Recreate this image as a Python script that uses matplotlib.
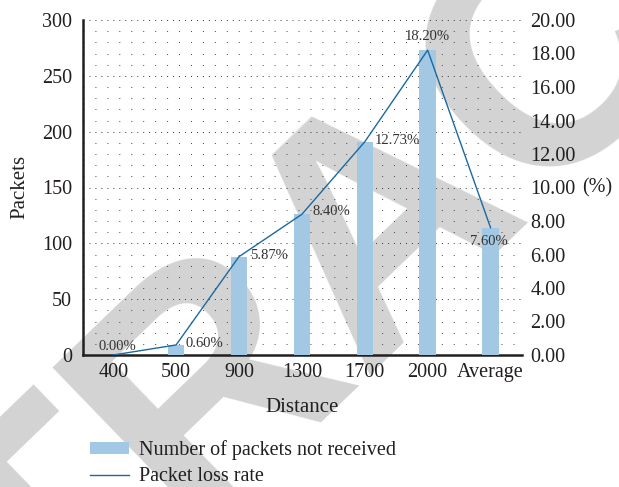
import matplotlib
matplotlib.use("Agg")
import matplotlib.pyplot as plt
from matplotlib.ticker import MultipleLocator, FormatStrFormatter
from matplotlib.patches import Patch
from matplotlib.lines import Line2D

# ---- data ----
distances = ["400", "500", "900", "1300", "1700", "2000", "Average"]
packets_lost = [0, 9, 88, 126, 191, 273, 114]
loss_rate = [0.00, 0.60, 5.87, 8.40, 12.73, 18.20, 7.60]
rate_labels = ["0.00%", "0.60%", "5.87%", "8.40%", "12.73%", "18.20%", "7.60%"]

# label offsets (points) and alignment for each rate annotation
label_offsets = [(3, 6), (7, 1), (8, 1), (8, 2), (7, 1), (0, 10), (-1, -10)]
label_align = ["center", "left", "left", "left", "left", "center", "center"]

bar_color = "#a3c8e3"
line_color = "#1b69a1"
text_color = "#231f20"

plt.rcParams["font.family"] = ["Liberation Serif", "DejaVu Serif"]
plt.rcParams["lines.scale_dashes"] = False
plt.rcParams["text.color"] = text_color

fig = plt.figure(figsize=(6.19, 4.87), dpi=100)
fig.patch.set_facecolor("white")

# diagonal stamp behind everything
fig.text(444 / 619, 1 - 283 / 487, "RETRACTED", fontsize=236,
         fontweight="bold", family="Liberation Sans", color="#d3d3d3",
         rotation=44, rotation_mode="anchor",
         ha="center", va="baseline", zorder=-10)

ax = fig.add_axes([83 / 619, 1 - 355 / 487, 439 / 619, 335 / 487])
ax.set_facecolor("none")
ax2 = ax.twinx()
ax2.set_facecolor("none")

x = list(range(len(distances)))
ax.bar(x, packets_lost, width=0.26, color=bar_color, zorder=3)
ax.set_xlim(-0.48, 6.5)
ax.set_ylim(0, 300)
ax.yaxis.set_major_locator(MultipleLocator(50))
ax.yaxis.set_minor_locator(MultipleLocator(10))
ax.set_xticks(x)
ax.set_xticklabels(distances)

ax.grid(axis="y", which="major", color="#333333", lw=0.7,
        linestyle=(0, (0.7, 3.6)), zorder=0)
ax.grid(axis="y", which="minor", color="#444444", lw=0.7,
        linestyle=(0, (0.7, 7.9)), zorder=0)
ax.set_axisbelow(True)

for s in ["top", "right"]:
    ax.spines[s].set_visible(False)
for s in ["left", "bottom"]:
    ax.spines[s].set_linewidth(1.8)
    ax.spines[s].set_color("#231f20")
ax.tick_params(axis="both", which="both", length=0, labelsize=14.5,
               labelcolor=text_color)
ax.tick_params(axis="y", pad=8)
ax.tick_params(axis="x", pad=6)

ax2.plot(x, loss_rate, color=line_color, lw=1.0, zorder=4)
ax2.set_ylim(0, 20)
ax2.yaxis.set_major_locator(MultipleLocator(2))
ax2.yaxis.set_major_formatter(FormatStrFormatter("%.2f"))
for s in ax2.spines.values():
    s.set_visible(False)
ax2.tick_params(axis="y", length=0, pad=6, labelsize=14.5,
                labelcolor=text_color)
ax2.text(1.138, 0.5, "(%)", transform=ax2.transAxes, ha="left",
         va="center", fontsize=14.5)

for xi, yi, lab, off, al in zip(x, loss_rate, rate_labels,
                                label_offsets, label_align):
    ax2.annotate(lab, (xi, yi), xytext=off, textcoords="offset points",
                 ha=al, va="center", fontsize=10.5, color="#333333",
                 zorder=5)

fig.text(20 / 619, 1 - 187 / 487, "Packets", rotation=90, ha="center",
         va="center", fontsize=15)
fig.text(302 / 619, 1 - 407 / 487, "Distance", ha="center", va="center",
         fontsize=15)

handles = [Patch(facecolor=bar_color, edgecolor="none"),
           Line2D([], [], color=line_color, lw=1.0)]
fig.legend(handles, ["Number of packets not received", "Packet loss rate"],
           loc="upper left", bbox_to_anchor=(76 / 619, 1 - 426 / 487),
           frameon=False, fontsize=14.5, handlelength=1.95, handleheight=0.5,
           handletextpad=0.5, labelspacing=0.37, borderpad=0.2)

fig.savefig("out.png", dpi=100)
